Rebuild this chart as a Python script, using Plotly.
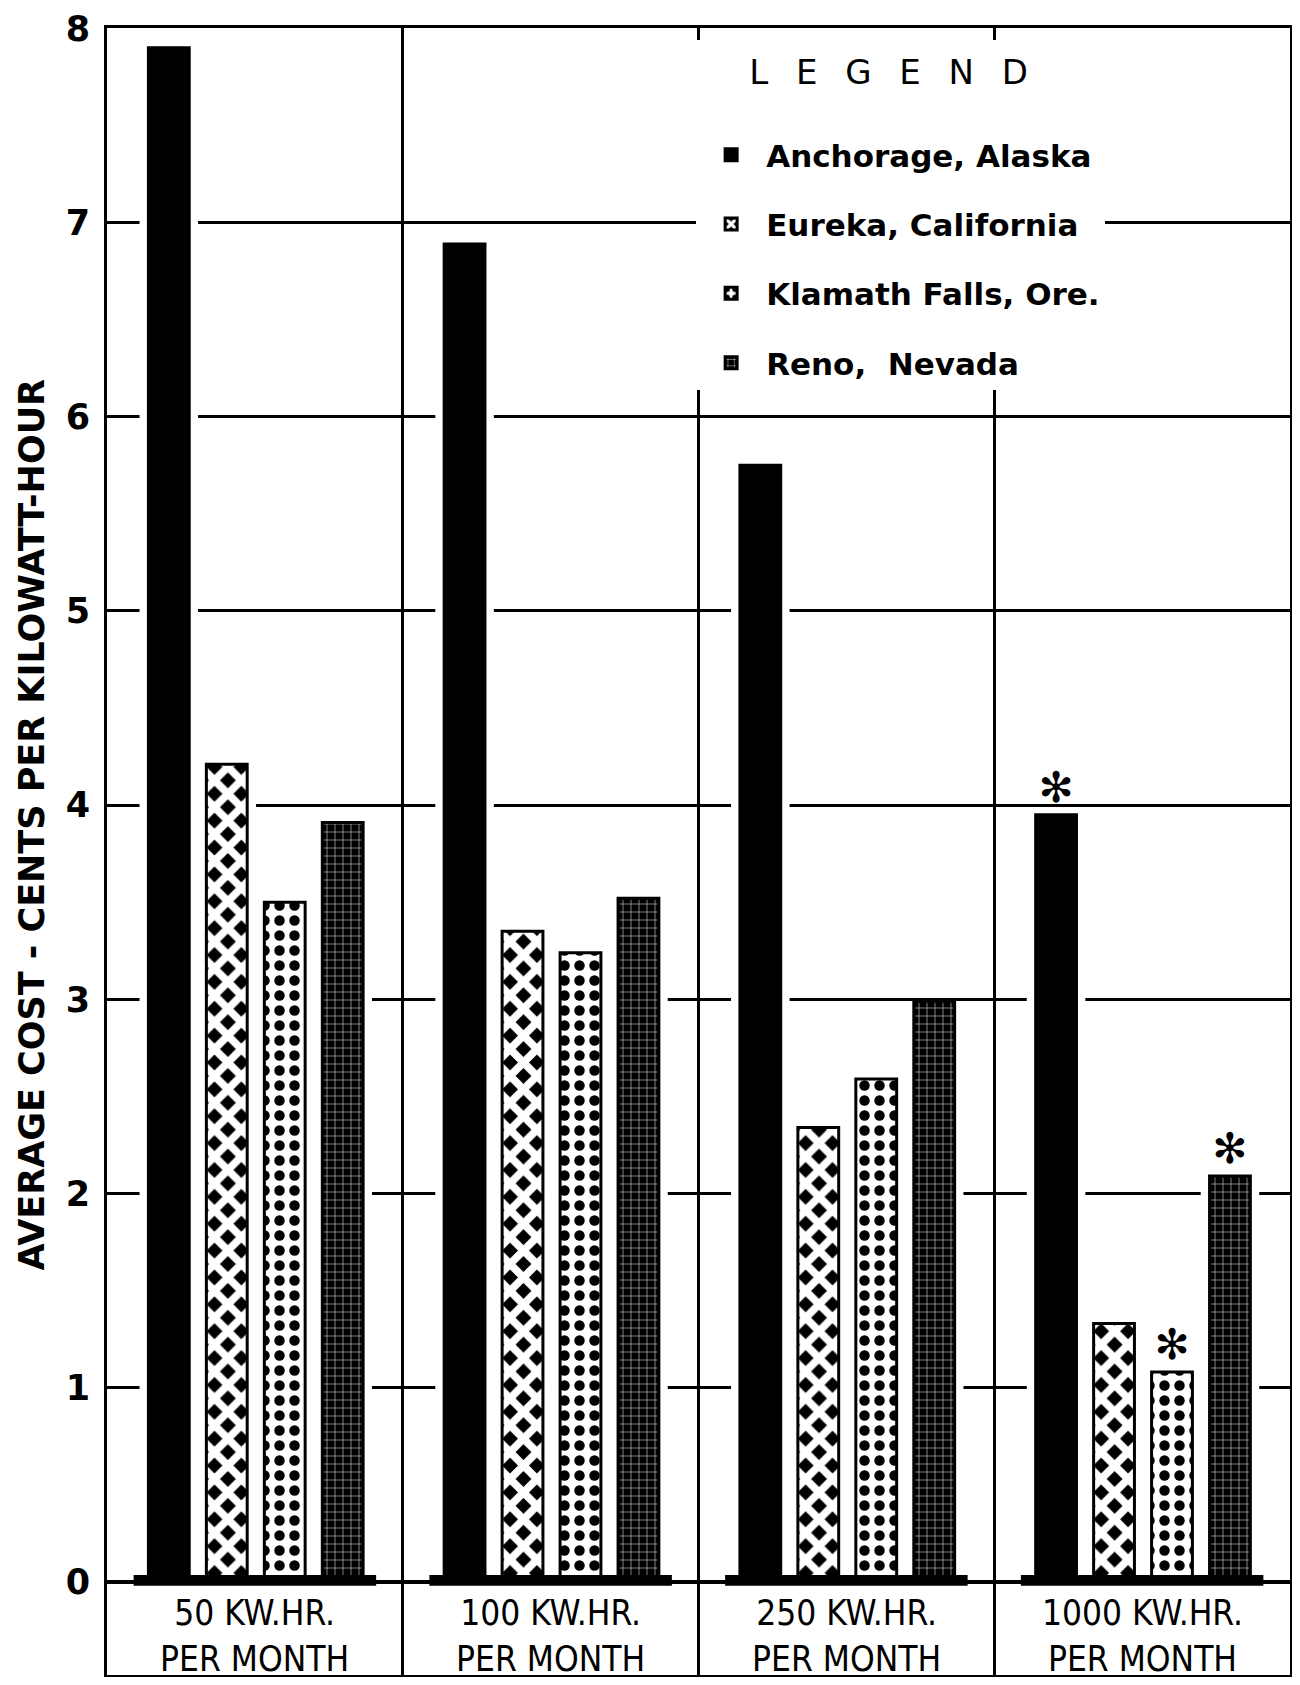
import plotly.graph_objects as go

# ---------------- data ----------------
categories = ["50 KW.HR.<br>PER MONTH", "100 KW.HR.<br>PER MONTH",
              "250 KW.HR.<br>PER MONTH", "1000 KW.HR.<br>PER MONTH"]
cities = ["Anchorage, Alaska", "Eureka, California", "Klamath Falls, Ore.", "Reno,  Nevada"]
anchorage = [7.90, 6.89, 5.75, 3.95]
eureka = [4.21, 3.35, 2.34, 1.33]
klamath = [3.50, 3.24, 2.59, 1.08]
reno = [3.91, 3.52, 2.99, 2.09]
# footnote asterisks (marked bars)
anchorage_note = ["", "", "", "\u273b"]
eureka_note = ["", "", "", ""]
klamath_note = ["", "", "", "\u273b"]
reno_note = ["", "", "", "\u273b"]
y_tick_vals = [0, 1, 2, 3, 4, 5, 6, 7, 8]
y_tick_text = ["0", "1", "2", "3", "4", "5", "6", "7", "8"]
y_title = "AVERAGE COST - CENTS PER KILOWATT-HOUR"
legend_title = "\u2003\u2002L\u2002\u00a0E\u2002\u00a0G\u2002\u00a0E\u2002\u00a0N\u2002\u00a0D<br>\u00a0"

# ---------------- styles ----------------
series = [
    (cities[0], anchorage, anchorage_note, dict(color="black")),
    (cities[1], eureka, eureka_note,
     dict(color="white", pattern=dict(shape="x", fgcolor="white", bgcolor="black",
                                      size=19, solidity=0.65, fillmode="replace"))),
    (cities[2], klamath, klamath_note,
     dict(color="white", pattern=dict(shape=".", fgcolor="black", bgcolor="white",
                                      size=15, solidity=0.38, fillmode="replace"))),
    (cities[3], reno, reno_note,
     dict(color="black", pattern=dict(shape="+", fgcolor="white", bgcolor="black",
                                      size=8, solidity=0.12, fillmode="replace"))),
]

START = -0.36
SLOT = 0.196
WIDTH = 0.138
HALO = 0.03

fig = go.Figure()

# white halos behind bars (interrupt grid lines as in the original drawing)
for j, (name, vals, notes, marker) in enumerate(series):
    fig.add_trace(go.Bar(
        x=categories, y=vals, offset=START + j * SLOT - HALO, width=WIDTH + 2 * HALO,
        marker=dict(color="white", line=dict(width=0)), showlegend=False,
        hoverinfo="skip"))

for j, (name, vals, notes, marker) in enumerate(series):
    m = dict(marker)
    m["line"] = dict(color="black", width=3)
    fig.add_trace(go.Bar(
        x=categories, y=vals, name=name, legendgroup=name,
        offset=START + j * SLOT, width=WIDTH, marker=m,
        text=notes, textposition="outside", cliponaxis=False,
        textfont=dict(family="DejaVu Sans", size=42, color="black"),
    ))

# dark base "shelves" under each group
for i, _ in enumerate(categories):
    fig.add_shape(type="rect", xref="x", yref="y", x0=i - 0.41, x1=i + 0.41,
                  y0=-0.02, y1=0.035, fillcolor="black", line=dict(width=0),
                  layer="above")

# category labels inside the lower box
for c in categories:
    fig.add_annotation(x=c, y=-0.28, xref="x", yref="y", text=c, showarrow=False,
                       font=dict(family="DejaVu Sans Condensed, DejaVu Sans", size=35,
                                 color="black"),
                       align="center", yanchor="middle")

# y-axis title
fig.add_annotation(x=-0.0634, y=3.9, xref="paper", yref="y", text=y_title,
                   textangle=-90, showarrow=False, xanchor="center", yanchor="middle",
                   font=dict(family="DejaVu Sans", size=35, color="black", weight="bold"))

fig.update_layout(
    width=1284, height=1669,
    margin=dict(l=99, r=2, t=20, b=2, autoexpand=False),
    paper_bgcolor="white", plot_bgcolor="white",
    barmode="overlay",
    showlegend=True,
    legend=dict(
        x=0.498, y=0.9929, xanchor="left", yanchor="top",
        bgcolor="white", borderwidth=0,
        font=dict(family="DejaVu Sans", size=31, color="black", weight="bold"),
        title=dict(text=legend_title,
                   font=dict(family="DejaVu Sans", size=34, color="black",
                             weight="normal")),
        traceorder="grouped", tracegroupgap=26, itemwidth=60,
    ),
    xaxis=dict(
        type="category", range=[-0.5, 3.5], tickson="boundaries",
        showgrid=True, gridcolor="black", gridwidth=2.5,
        showticklabels=False, ticks="",
        showline=True, linecolor="black", linewidth=3, mirror=True,
        zeroline=False, automargin=False,
    ),
    yaxis=dict(
        range=[-0.48, 8.002], tickvals=y_tick_vals, ticktext=y_tick_text,
        showgrid=True, gridcolor="black", gridwidth=2.5,
        zeroline=True, zerolinecolor="black", zerolinewidth=4,
        showline=True, linecolor="black", linewidth=3, mirror=True,
        ticks="", ticklabelstandoff=7, ticklabeloverflow="allow", automargin=False,
        tickfont=dict(family="DejaVu Sans", size=35, color="black", weight="bold"),
    ),
)

fig.write_html("out.html")
